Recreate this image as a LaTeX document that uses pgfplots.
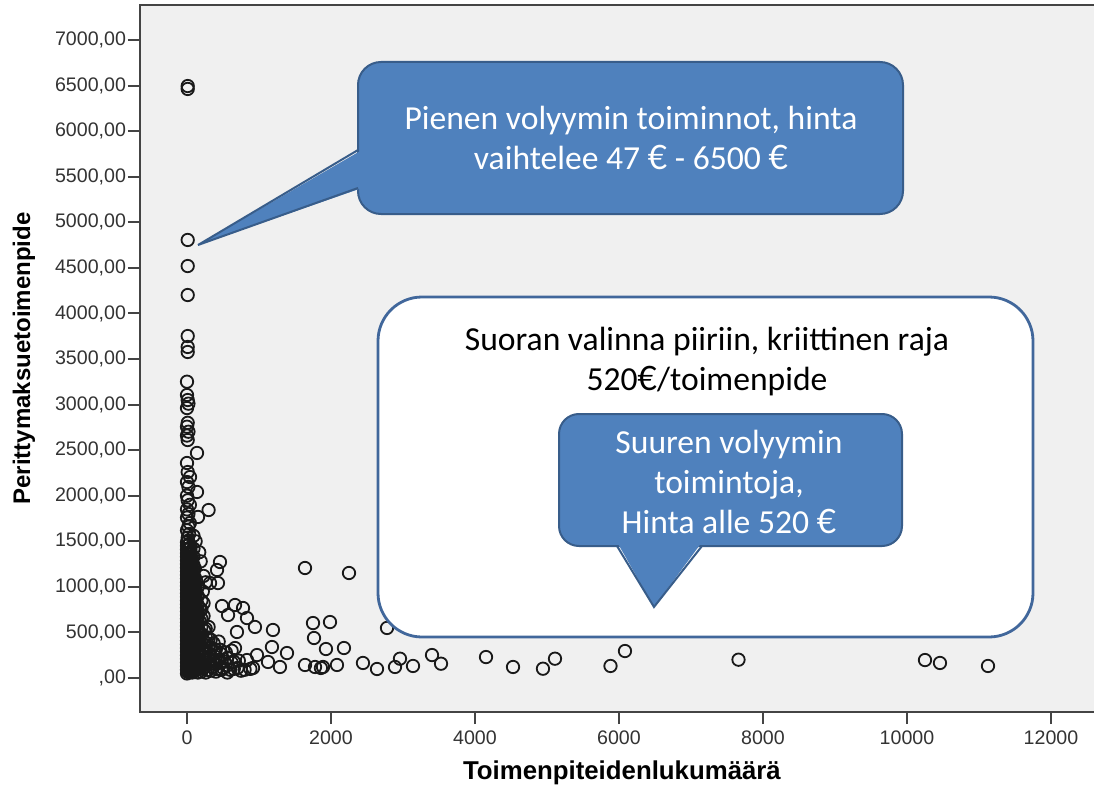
\documentclass[border=0pt]{standalone}
\usepackage{fontspec}
\setmainfont{Liberation Sans}
\newfontfamily\calibri{Carlito}
\newfontfamily\eurfont{Lato}
\newcommand\eur{{\eurfont €}}
\usepackage{pgfplots}
\pgfplotsset{compat=1.18}
\definecolor{plotbg}{HTML}{F0F0F0}
\definecolor{axisgray}{HTML}{444444}
\definecolor{ticktext}{HTML}{333333}
\definecolor{calloutblue}{HTML}{4F81BD}
\definecolor{calloutedge}{HTML}{385D8A}
\definecolor{whiteedge}{HTML}{41679B}
\begin{document}
\begin{tikzpicture}
\fill[white] (0,0) rectangle (547pt,392pt);
\begin{axis}[
  at={(70pt,36pt)}, anchor=south west,
  scale only axis, width=480pt, height=353.5pt,
  xmin=-652.8, xmax=12680.6, ymin=-373, ymax=7384,
  axis background/.style={fill=plotbg},
  axis line style={axisgray, line width=1pt},
  tick pos=left, tick align=outside, major tick length=6pt,
  tick style={axisgray, line width=1pt},
  scaled x ticks=false, scaled y ticks=false,
  xtick={0,2000,4000,6000,8000,10000,12000},
  xticklabels={0,2000,4000,6000,8000,10000,12000},
  ytick={0,500,1000,1500,2000,2500,3000,3500,4000,4500,5000,5500,6000,6500,7000},
  yticklabels={{,00},{500,00},{1000,00},{1500,00},{2000,00},{2500,00},{3000,00},{3500,00},{4000,00},{4500,00},{5000,00},{5500,00},{6000,00},{6500,00},{7000,00}},
  tick label style={font=\fontsize{9.8}{11}\selectfont, text=ticktext},
  yticklabel style={xshift=2.5pt},
  /pgf/number format/assume math mode=true,
  xlabel={Toimenpiteidenlukumäärä},
  ylabel={Perittymaksuetoimenpide},
  xlabel style={at={(axis description cs:0.502,-0.0863)}, anchor=center, font=\bfseries\fontsize{12.9}{14}\selectfont},
  ylabel style={at={(axis description cs:-0.121,0.5)}, anchor=center, font=\bfseries\fontsize{12}{14}\selectfont},
]
\addplot[only marks, mark=o, mark size=3.1pt, black!90, line width=0.9pt] coordinates {
(0,50)(0,90)(0,130)(0,170)(0,210)(0,250)(0,290)(0,330)(0,370)(0,410)(0,450)(0,490)(0,530)(0,570)(0,610)(0,650)(0,690)(0,730)(0,770)(0,810)(0,850)(0,890)(0,930)(0,970)(0,1010)(0,1050)(0,1090)(0,1130)(0,1170)(0,1210)(0,1250)(0,1290)(0,1330)(0,1370)(0,1410)(0,1450)(0,1490)
(15,65)(15,110)(15,155)(15,200)(15,245)(15,290)(15,335)(15,380)(15,425)(15,470)(15,515)(15,560)(15,605)(15,650)(15,695)(15,740)(15,785)(15,830)(15,875)(15,920)(15,965)(15,1010)(15,1055)(15,1100)(15,1145)(15,1190)(15,1235)(15,1280)(15,1325)(15,1370)(15,1415)(15,1460)(15,1505)
(35,70)(35,120)(35,170)(35,220)(35,270)(35,320)(35,370)(35,420)(35,470)(35,520)(35,570)(35,620)(35,670)(35,720)(35,770)(35,820)(35,870)(35,920)(35,970)(35,1020)(35,1070)(35,1120)(35,1170)(35,1220)(35,1270)(35,1320)(35,1370)(35,1420)(35,1470)
(50,85)(50,135)(50,185)(50,235)(50,285)(50,335)(50,385)(50,435)(50,485)(50,535)(50,585)(50,635)(50,685)(50,735)(50,785)(50,835)(50,885)(50,935)(50,985)(50,1035)(50,1085)(50,1135)(50,1185)(50,1235)(50,1285)(50,1335)(50,1385)(50,1435)
(70,60)(70,110)(70,160)(70,210)(70,260)(70,310)(70,360)(70,410)(70,460)(70,510)(70,560)(70,610)(70,660)(70,710)(70,760)(70,810)(70,860)(70,910)(70,960)(70,1010)(70,1060)(70,1110)(70,1160)(70,1210)(70,1260)(70,1310)
(90,70)(90,120)(90,170)(90,220)(90,270)(90,320)(90,370)(90,420)(90,470)(90,520)(90,570)(90,620)(90,670)(90,720)(90,770)(90,820)(90,870)(90,920)(90,970)(90,1020)(90,1070)(90,1120)(90,1170)(90,1240)(90,1330)(90,1420)
(110,80)(110,140)(110,200)(110,260)(110,320)(110,380)(110,440)(110,500)(110,560)(110,620)(110,680)(110,740)(110,800)(110,860)(110,920)(110,980)(110,1040)(110,1100)(110,1200)
(130,100)(130,160)(130,220)(130,280)(130,340)(130,400)(130,460)(130,520)(130,580)(130,640)(130,700)(130,770)(130,850)(130,940)(130,1060)
(150,60)(150,120)(150,180)(150,240)(150,300)(150,360)(150,420)(150,480)(150,540)(150,600)(150,660)(150,720)(150,800)(150,900)(150,1000)
(200,70)(200,150)(200,230)(200,310)(200,390)(200,470)(200,560)(200,650)(200,750)(200,850)
(260,60)(260,130)(260,200)(260,280)(260,360)(260,450)(260,540)
(330,80)(330,160)(330,240)(330,330)(330,420)
(400,70)(400,150)(400,230)(400,310)
(480,90)(480,170)(480,260)
(560,60)(560,140)(560,220)
(650,100)(650,180)
(750,80)
(180,100)(230,110)(290,90)(350,120)(420,100)(500,110)(600,90)(700,110)(800,90)(880,100)
(180,180)(240,200)(300,170)(370,190)(440,200)(520,180)(620,170)(720,190)
(180,280)(240,300)(310,270)(380,290)(460,310)(540,280)(620,300)
(180,380)(240,400)(300,430)(370,380)(440,400)
(180,500)(240,520)(300,560)
(180,620)(230,680)(180,760)(230,820)
(220,950)(260,1050)(230,1120)
(10,1540)(30,1580)(0,1620)(20,1660)(40,1700)(0,1760)(20,1800)(0,1850)(40,1900)(10,1950)(0,2000)(139,2041)(20,2096)(0,2150)(42,2205)(10,2260)(0,2359)(139,2469)(10,2611)(0,2660)(20,2702)(0,2757)(10,2800)(0,2962)(20,3010)(10,3050)(0,3105)(0,3251)(10,3577)(10,3632)(10,3752)(10,4202)(10,4520)(10,4806)(10,6463)(10,6495)
(300,1843)(153,1767)(90,1560)(120,1500)(170,1380)(190,1280)
(458,1273)(417,1185)(430,1042)(320,1042)(486,790)(667,801)(778,768)(570,691)(833,658)(944,560)(1194,527)(694,505)(1180,340)(1389,274)(667,329)(972,252)(833,197)(1125,176)(1291,121)(917,110)(1639,143)(1778,121)(1889,121)(1860,110)(2083,143)(2444,165)(2639,99)(2889,121)(1639,1207)(2250,1152)(1750,603)(1986,614)(1764,439)(1930,318)(2180,329)(2778,549)(2958,212)(3139,132)(3403,252)(3528,157)(4153,230)(4528,121)(4944,102)(5111,212)(5882,132)(6083,296)(7660,201)(10250,197)(10458,165)(11125,132)
};
\end{axis}
\begin{scope}[shift={(0pt,392pt)}, x=0.5pt, y=-0.5pt]
  % white callout
  \draw[whiteedge, line width=1.4pt, fill=white, rounded corners=22pt] (378,297) rectangle (1033,637);
  \node[font=\calibri\fontsize{16.8}{20}\selectfont, align=center, text=black] at (707,362) {Suoran valinna piiriin, kriittinen raja\\520\eur/toimenpide};
  % inner blue callout
  \draw[calloutedge, line width=1pt, fill=calloutblue, rounded corners=10pt] (559,414) rectangle (902,546);
  \fill[calloutblue] (617,542) -- (654,607) -- (702,542) -- cycle;
  \draw[calloutedge, line width=1pt, line join=miter] (617,546) -- (654,607) -- (702,546);
  \node[font=\calibri\fontsize{16.8}{20}\selectfont, align=center, text=white] at (729,482) {Suuren volyymin\\toimintoja,\\Hinta alle 520 \eur};
  % top blue callout
  \draw[calloutedge, line width=1pt, fill=calloutblue, rounded corners=11.5pt] (358,62) rectangle (903,214);
  \fill[calloutblue] (362,150) -- (198,245) -- (362,188) -- cycle;
  \draw[calloutedge, line width=1pt, line join=miter] (358,150) -- (198,245) -- (358,188);
  \node[font=\calibri\fontsize{16.8}{20}\selectfont, align=center, text=white] at (631,138) {Pienen volyymin toiminnot, hinta\\vaihtelee 47 \eur{} - 6500 \eur};
\end{scope}
\pgfresetboundingbox
\useasboundingbox (0,0) rectangle (547pt,392pt);
\end{tikzpicture}
\end{document}
